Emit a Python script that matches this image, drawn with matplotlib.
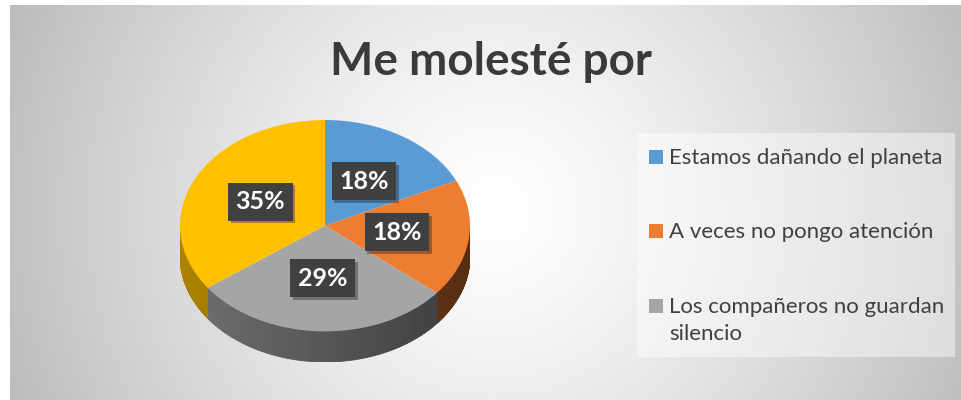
import numpy as np
import matplotlib.pyplot as plt
from matplotlib.colors import to_rgb
from matplotlib.patches import Rectangle, Polygon
import matplotlib.patheffects as pe

plt.rcParams["font.family"] = ["Lato", "DejaVu Sans"]

title = "Me molesté por"
values = [18, 18, 29, 35]
colors = ["#5B9BD5", "#ED7D31", "#A5A5A5", "#FFC000"]
legend_labels = [
    "Estamos dañando el planeta",
    "A veces no pongo atención",
    "Los compañeros no guardan\nsilencio",
]

W, H = 961, 400
fig = plt.figure(figsize=(W / 100, H / 100), dpi=100)

# radial gray background, white margin on the left/top
ax_bg = fig.add_axes([0, 0, 1, 1])
yy, xx = np.mgrid[0:H, 0:W]
r = np.hypot(xx - 495, yy - 210) / 500.0
shade = np.clip(1.0 - 0.25 * r ** 1.3, 0, 1)
bg = np.dstack([shade] * 3)
bg[:, :10] = 1.0
bg[:5, :] = 1.0
ax_bg.imshow(bg, extent=(0, W, H, 0), aspect="auto")
ax_bg.set_xlim(0, W)
ax_bg.set_ylim(H, 0)
ax_bg.axis("off")

fig.text(491 / W, 1 - 75 / H, title, ha="center", va="baseline",
         fontsize=33, fontweight="bold", color="#3a3a3a")

# ---- 3D-looking pie ----
depth = 0.29
ax = fig.add_axes([180 / W, 0.095, 290 / W, 0.605])

# side walls for the front half, shaded strip by strip
total = float(sum(values))
start = 90.0
for v, c in zip(values, colors):
    end = start - 360.0 * v / total
    lo, hi = max(end, -180.0), min(start, 0.0)
    if lo < hi:
        th = np.linspace(np.radians(lo), np.radians(hi), 60)
        base = np.array(to_rgb(c))
        for a0, a1 in zip(th[:-1], th[1:]):
            f = 0.52 - 0.16 * np.cos((a0 + a1) / 2)
            pts = [(np.cos(a0), np.sin(a0)), (np.cos(a1), np.sin(a1)),
                   (np.cos(a1), np.sin(a1) - depth), (np.cos(a0), np.sin(a0) - depth)]
            ax.add_patch(Polygon(pts, closed=True, facecolor=base * f,
                                 edgecolor=base * f, linewidth=0.6, zorder=1))
    start = end

wedges, texts, autotexts = ax.pie(
    values, colors=colors, startangle=90, counterclock=False,
    autopct=lambda p: f"{p:.0f}%", pctdistance=0.5,
    wedgeprops=dict(linewidth=0, zorder=2),
    textprops=dict(color="white", fontsize=18, fontweight="bold"),
)
for t in autotexts:
    t.set_zorder(5)
    t.set_bbox(dict(boxstyle="square,pad=0.3", facecolor="#404040",
                    edgecolor="none"))
    t.get_bbox_patch().set_path_effects(
        [pe.SimplePatchShadow(offset=(2, -2), alpha=0.35), pe.Normal()])

ax.set_aspect("auto")
ax.set_xlim(-1.0, 1.0)
ax.set_ylim(-1.0 - depth, 1.0)
ax.axis("off")

# ---- legend ----
lw, lh = 318, 224
ax_leg = fig.add_axes([637 / W, 1 - 357 / H, lw / W, lh / H])
ax_leg.set_xlim(0, lw)
ax_leg.set_ylim(lh, 0)
ax_leg.axis("off")
ax_leg.add_patch(Rectangle((0, 0), lw, lh, facecolor="white", alpha=0.45,
                           edgecolor="none"))
for i, (lab, c) in enumerate(zip(legend_labels, colors)):
    base_y = 31 + 74.5 * i
    ax_leg.add_patch(Rectangle((12, base_y - 14), 14, 14, facecolor=c,
                               edgecolor="none"))
    # first line sits on the marker baseline, wrapped lines follow below
    for k, line in enumerate(lab.split("\n")):
        ax_leg.text(32, base_y + 27 * k, line, ha="left", va="baseline",
                    fontsize=16, color="#404040")

fig.savefig("out.png", dpi=100)
